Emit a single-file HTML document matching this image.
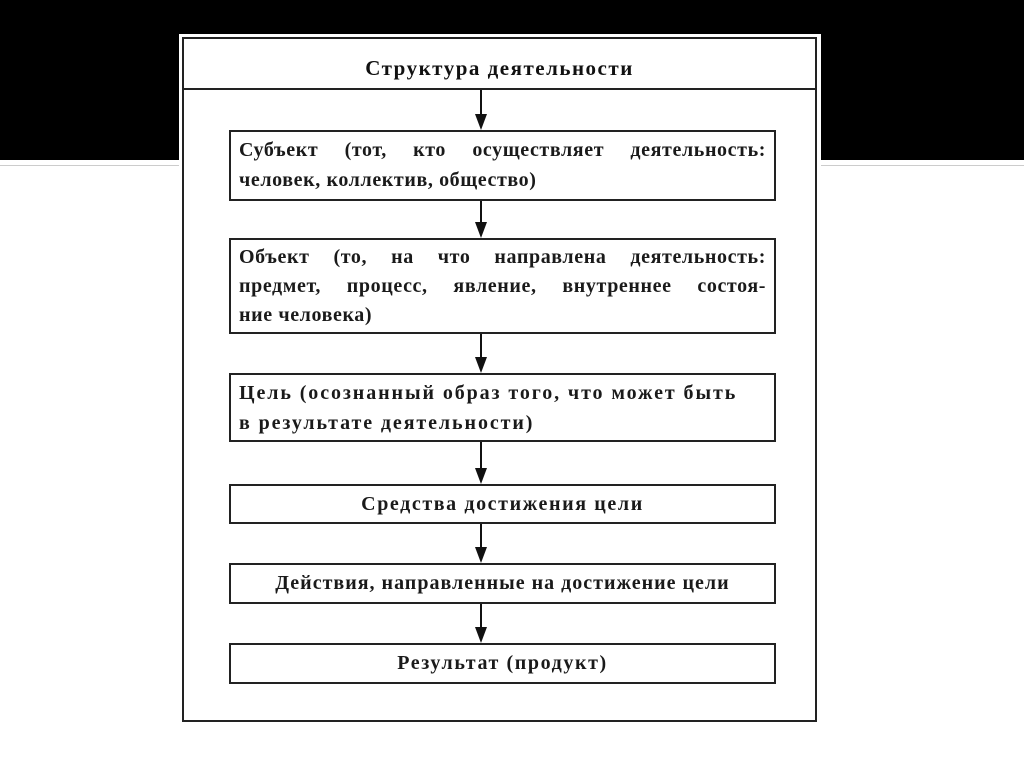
<!DOCTYPE html>
<html><head><meta charset="utf-8"><style>
body{margin:0;width:1024px;height:767px;background:#fff;position:relative;overflow:hidden;font-family:"Liberation Serif",serif;}
.band{position:absolute;left:0;top:0;width:1024px;height:160px;background:#000;}
.hl{position:absolute;left:0;top:165px;width:1024px;height:1px;background:#ccc;}
.panel{position:absolute;left:179px;top:34px;width:642px;height:692px;background:#fff;}
.frame{position:absolute;left:182px;top:37px;width:635px;height:685px;border:2px solid #222;box-sizing:border-box;}
.div{position:absolute;left:182px;top:88px;width:635px;height:2px;background:#222;}
.title{position:absolute;left:182px;top:56px;width:635px;text-align:center;font-size:21px;font-weight:bold;letter-spacing:1.5px;color:#111;}
.box{position:absolute;left:229px;width:547px;border:2px solid #222;box-sizing:border-box;font-size:20px;font-weight:bold;color:#1a1a1a;line-height:30px;padding:3px 8px;letter-spacing:0.6px;}
.j{text-align:justify;text-align-last:justify;}
.c{text-align:center;letter-spacing:1.6px;}
svg{position:absolute;left:0;top:0;}
</style></head><body>
<div class="band"></div><div class="hl"></div>
<div class="panel"></div><div class="frame"></div><div class="div"></div>
<div class="title">Структура деятельности</div>
<div class="box" style="top:130px;height:71px"><div class="j">Субъект (тот, кто осуществляет деятельность:</div><div>человек, коллектив, общество)</div></div>
<div class="box" style="top:238px;height:96px;line-height:29px;padding-top:3px"><div class="j">Объект (то, на что направлена деятельность:</div><div class="j">предмет, процесс, явление, внутреннее состоя-</div><div>ние человека)</div></div>
<div class="box" style="top:373px;height:69px;letter-spacing:1.9px"><div>Цель (осознанный образ того, что может быть</div><div>в результате деятельности)</div></div>
<div class="box c" style="top:484px;height:40px">Средства достижения цели</div>
<div class="box c" style="top:563px;height:41px;letter-spacing:1px">Действия, направленные на достижение цели</div>
<div class="box c" style="top:643px;height:41px">Результат (продукт)</div>
<svg width="1024" height="767">
<g stroke="#111" stroke-width="2" fill="#111">
<line x1="481" y1="90" x2="481" y2="118"/><polygon points="475,114 487,114 481,130" stroke="none"/>
<line x1="481" y1="201" x2="481" y2="226"/><polygon points="475,222 487,222 481,238" stroke="none"/>
<line x1="481" y1="334" x2="481" y2="361"/><polygon points="475,357 487,357 481,373" stroke="none"/>
<line x1="481" y1="442" x2="481" y2="472"/><polygon points="475,468 487,468 481,484" stroke="none"/>
<line x1="481" y1="524" x2="481" y2="551"/><polygon points="475,547 487,547 481,563" stroke="none"/>
<line x1="481" y1="604" x2="481" y2="631"/><polygon points="475,627 487,627 481,643" stroke="none"/>
</g></svg>
</body></html>
